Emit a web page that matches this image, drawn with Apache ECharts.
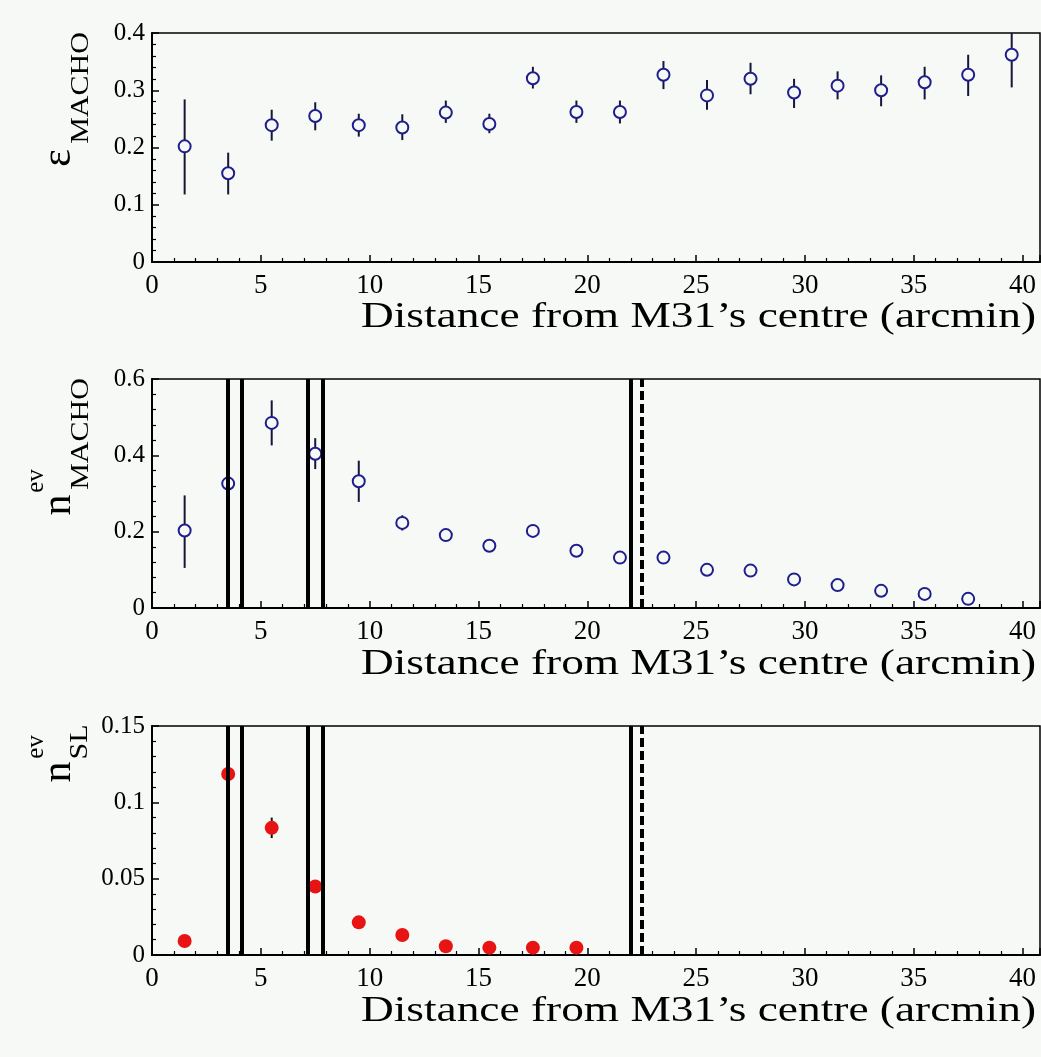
<!DOCTYPE html>
<html>
<head>
<meta charset="utf-8">
<script src="https://cdn.jsdelivr.net/npm/echarts@6/dist/echarts.min.js"></script>
<style>
html,body{margin:0;padding:0;background:#f6f9f6;}
#chart{width:1041px;height:1057px;}
</style>
</head>
<body>
<div id="chart"></div>
<script>
// ---- data ----
const xEff = [1.5,3.5,5.5,7.5,9.5,11.5,13.5,15.5,17.5,19.5,21.5,23.5,25.5,27.5,29.5,31.5,33.5,35.5,37.5,39.5];
const effVal = [0.202,0.155,0.239,0.255,0.239,0.235,0.261,0.241,0.321,0.262,0.262,0.327,0.291,0.320,0.296,0.308,0.300,0.314,0.327,0.362];
const effHi  = [0.284,0.191,0.266,0.279,0.259,0.258,0.282,0.259,0.341,0.282,0.282,0.351,0.318,0.348,0.320,0.333,0.326,0.341,0.362,0.400];
const effLo  = [0.118,0.118,0.212,0.230,0.219,0.213,0.243,0.225,0.303,0.243,0.242,0.302,0.266,0.293,0.269,0.284,0.272,0.284,0.290,0.305];

const xMacho = [1.5,3.5,5.5,7.5,9.5,11.5,13.5,15.5,17.5,19.5,21.5,23.5,25.5,27.5,29.5,31.5,33.5,35.5,37.5];
const machoVal = [0.203,0.326,0.485,0.404,0.332,0.223,0.191,0.163,0.202,0.150,0.132,0.132,0.100,0.098,0.075,0.060,0.045,0.037,0.024];
const machoHi  = [0.295,0.336,0.544,0.445,0.386,0.243,0.200,0.170,0.212,0.158,0.140,0.140,0.106,0.104,0.080,0.064,0.048,0.040,0.026];
const machoLo  = [0.105,0.316,0.426,0.364,0.278,0.203,0.182,0.156,0.192,0.142,0.124,0.124,0.094,0.092,0.070,0.056,0.042,0.034,0.022];

const xSL = [1.5,3.5,5.5,7.5,9.5,11.5,13.5,15.5,17.5,19.5];
const slVal = [0.0092,0.1186,0.0833,0.0449,0.0214,0.0131,0.0057,0.0048,0.0048,0.0048];
const slHi  = [0.0110,0.1210,0.0900,0.0480,0.0235,0.0150,0.0070,0.0060,0.0060,0.0060];
const slLo  = [0.0074,0.1162,0.0766,0.0418,0.0193,0.0112,0.0044,0.0036,0.0036,0.0036];

const solidLines = [3.5,4.13,7.15,7.85,22.0];
const dashedLines = [22.5];

const xTitle = 'Distance from M31\u2019s centre (arcmin)';
const yRanges = [[0,0.4,0.1],[0,0.6,0.2],[0,0.15,0.05]];

// ---- build ----
const BG = '#f6f9f6';
const NAVY = '#1e1e8c';
const grids = [
  {left:152, right:1, top:33, height:229},
  {left:152, right:1, top:379, height:229},
  {left:152, right:1, top:726, height:229}
].map(g => Object.assign(g, {show:true, borderColor:'#000', borderWidth:1.5, backgroundColor:'transparent'}));

const fmt = v => String(+v.toFixed(2));
const xAxes = [0,1,2].map(i => ({
  type:'value', gridIndex:i, min:0, max:40.8, interval:5,
  axisLine:{show:true, onZero:false, lineStyle:{color:'#000', width:2}},
  axisTick:{show:true, inside:true, length:7, lineStyle:{color:'#000', width:1.5}},
  minorTick:{show:true, splitNumber:5, length:4, lineStyle:{color:'#000', width:1.2}},
  splitLine:{show:false},
  axisLabel:{show:true, showMaxLabel:false, margin:10, color:'#000', fontFamily:'Liberation Serif', fontSize:27,
    formatter: v => (Math.abs(v % 5) < 1e-9 ? String(v) : '')}
}));
const yAxes = yRanges.map((r,i) => ({
  type:'value', gridIndex:i, min:r[0], max:r[1], interval:r[2],
  axisLine:{show:true, onZero:false, lineStyle:{color:'#000', width:2}},
  axisTick:{show:true, inside:true, length:7, lineStyle:{color:'#000', width:1.5}},
  minorTick:{show:true, splitNumber:5, length:4, lineStyle:{color:'#000', width:1.2}},
  splitLine:{show:false},
  axisLabel:{show:true, margin:7, color:'#000', fontFamily:'Liberation Serif', fontSize:25, formatter: fmt}
}));

function errSeries(idx, xs, lo, hi, color, width) {
  return {
    type:'custom', xAxisIndex:idx, yAxisIndex:idx, z:2, silent:true,
    data: xs.map((x,i) => [x, lo[i], hi[i]]),
    renderItem: (params, api) => {
      const p1 = api.coord([api.value(0), api.value(1)]);
      const p2 = api.coord([api.value(0), api.value(2)]);
      return {type:'line', shape:{x1:p1[0], y1:p1[1], x2:p2[0], y2:p2[1]},
        style:{stroke:color, lineWidth:width}};
    }
  };
}
function vlines(idx) {
  return {
    type:'scatter', xAxisIndex:idx, yAxisIndex:idx, data:[], z:6, silent:true,
    markLine:{
      silent:true, symbol:'none', animation:false, label:{show:false},
      data: solidLines.map(v => ({xAxis:v, lineStyle:{color:'#000', width:4, type:'solid'}}))
        .concat(dashedLines.map(v => ({xAxis:v, lineStyle:{color:'#000', width:4, type:[9,4]}})))
    }
  };
}

const series = [
  errSeries(0, xEff, effLo, effHi, '#161638', 2),
  {type:'scatter', xAxisIndex:0, yAxisIndex:0, z:3, symbol:'circle', symbolSize:12,
   itemStyle:{color:BG, borderColor:NAVY, borderWidth:2, opacity:1},
   data: xEff.map((x,i)=>[x, effVal[i]])},
  errSeries(1, xMacho, machoLo, machoHi, '#161638', 2),
  {type:'scatter', xAxisIndex:1, yAxisIndex:1, z:3, symbol:'circle', symbolSize:12,
   itemStyle:{color:BG, borderColor:NAVY, borderWidth:2, opacity:1},
   data: xMacho.map((x,i)=>[x, machoVal[i]])},
  vlines(1),
  errSeries(2, xSL, slLo, slHi, '#111', 2),
  {type:'scatter', xAxisIndex:2, yAxisIndex:2, z:3, symbol:'circle', symbolSize:14,
   itemStyle:{color:'#e81414', opacity:1},
   data: xSL.map((x,i)=>[x, slVal[i]])},
  vlines(2)
];

function txt(x, y, text, size, opts) {
  opts = opts || {};
  return {
    type:'text', x:x, y:y, rotation: opts.rot || 0, scaleX: opts.sx || 1, z:10, silent:true,
    style:{text:text, font: size + 'px "Liberation Serif"', fill:'#000',
      textAlign: opts.align || 'center', textVerticalAlign:'middle', align: opts.align || 'center', verticalAlign:'middle'}
  };
}
const R = Math.PI/2;
const graphics = [
  txt(1036, 318, xTitle, 36, {align:'right', sx:1.26}),
  txt(1036, 665, xTitle, 36, {align:'right', sx:1.26}),
  txt(1036, 1012, xTitle, 36, {align:'right', sx:1.26}),
  // panel 1 y title
  txt(59, 158, '\u03b5', 42, {rot:R}),
  txt(81, 88, 'MACHO', 25, {rot:R, sx:1.2}),
  // panel 2 y title
  txt(36, 481, 'ev', 25, {rot:R}),
  txt(59, 505, 'n', 42, {rot:R}),
  txt(81, 434, 'MACHO', 25, {rot:R, sx:1.2}),
  // panel 3 y title
  txt(36, 747, 'ev', 25, {rot:R}),
  txt(59, 772, 'n', 42, {rot:R}),
  txt(80, 742, 'SL', 25, {rot:R, sx:1.2})
];

const chart = echarts.init(document.getElementById('chart'), null, {renderer:'canvas'});
chart.setOption({
  backgroundColor: BG,
  animation:false,
  grid: grids,
  xAxis: xAxes,
  yAxis: yAxes,
  series: series,
  graphic: graphics
});
</script>
</body>
</html>
